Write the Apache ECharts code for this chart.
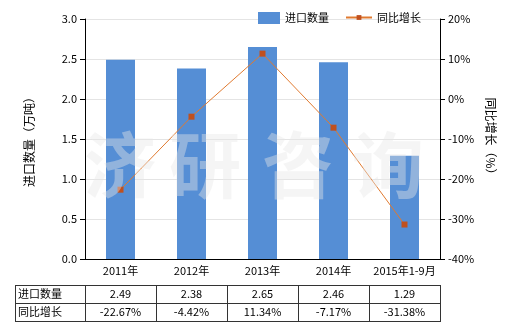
<!DOCTYPE html>
<html><head><meta charset="utf-8">
<script src="https://cdn.jsdelivr.net/npm/echarts@6/dist/echarts.min.js"></script>
<style>html,body{margin:0;padding:0;background:#fff}#c{width:520px;height:330px}</style>
</head><body><div id="c"></div>
<script>
var categories = ['2011年','2012年','2013年','2014年','2015年1-9月'];
var importQty = [2.49, 2.38, 2.65, 2.46, 1.29];
var yoyGrowth = [-22.67, -4.42, 11.34, -7.17, -31.38];
var qtyLabels = ['2.49','2.38','2.65','2.46','1.29'];
var growthLabels = ['-22.67%','-4.42%','11.34%','-7.17%','-31.38%'];
var rowNames = ['进口数量','同比增长'];
var watermarkChars = ['济','研','咨','询'];

var FONT = '"Noto Sans CJK SC", sans-serif';
var L = 85, R = 440, T = 19, B = 259;
var chart = echarts.init(document.getElementById('c'));

var tbl = [];
var tx0 = 15, ty0 = 285, rowH = 18;
var colW = (R - L) / categories.length;
var lineStyle = {stroke:'#333', lineWidth:1};
var rows = [qtyLabels, growthLabels];
for (var r = 0; r <= 2; r++) {
  tbl.push({type:'line', shape:{x1:tx0, y1:ty0 + r*rowH + 0.5, x2:R+1, y2:ty0 + r*rowH + 0.5}, style:lineStyle, silent:true});
}
tbl.push({type:'line', shape:{x1:tx0+0.5, y1:ty0, x2:tx0+0.5, y2:ty0+2*rowH}, style:lineStyle});
for (var c = 0; c <= categories.length; c++) {
  var x = Math.round(L + c*colW) + 0.5;
  tbl.push({type:'line', shape:{x1:x, y1:ty0, x2:x, y2:ty0+2*rowH}, style:lineStyle});
}
for (var r2 = 0; r2 < 2; r2++) {
  tbl.push({type:'text', x: tx0 + 3, y: ty0 + r2*rowH + rowH/2, style:{text: rowNames[r2], font:'11px '+FONT, fill:'#000', verticalAlign:'middle', align:'left'}});
  for (var c2 = 0; c2 < categories.length; c2++) {
    tbl.push({type:'text', x: L + (c2+0.5)*colW, y: ty0 + r2*rowH + rowH/2, style:{text: rows[r2][c2], font:'11px '+FONT, fill:'#000', verticalAlign:'middle', align:'center'}});
  }
}
var wmX = [120, 205, 298, 388];
for (var w = 0; w < watermarkChars.length; w++) {
  tbl.push({type:'text', x: wmX[w], y: 165, z: 100, silent:true,
    style:{text:watermarkChars[w], font:'bold 72px '+FONT, fill:'rgba(232,232,232,0.42)', align:'center', verticalAlign:'middle'}});
}

chart.setOption({
  animation:false,
  textStyle:{fontFamily:FONT},
  grid:{left:L, right:520-R, top:T, bottom:330-B, containLabel:false},
  legend:[{
    top:7, left:253, itemWidth:22, itemHeight:12,
    textStyle:{fontSize:11, color:'#000', fontFamily:FONT},
    data:[{name:'进口数量', icon:'rect'}]
  },{
    top:7, left:340, itemWidth:26, itemHeight:6,
    lineStyle:{width:2},
    textStyle:{fontSize:11, color:'#000', fontFamily:FONT},
    data:[{name:'同比增长'}]
  }],
  xAxis:{
    type:'category', data:categories,
    axisLine:{lineStyle:{color:'#000'}},
    axisTick:{show:false},
    axisLabel:{color:'#000', fontSize:11, margin:6, interval:0}
  },
  yAxis:[{
    type:'value', min:0, max:3, interval:0.5,
    name:'进口数量（万吨）', nameLocation:'middle', nameGap:50, nameRotate:90,
    nameTextStyle:{fontSize:12, color:'#000'},
    axisLine:{show:true, lineStyle:{color:'#000'}},
    axisTick:{show:true, length:5, lineStyle:{color:'#000'}},
    axisLabel:{color:'#000', fontSize:11, formatter:function(v){return v.toFixed(1);}},
    splitLine:{lineStyle:{color:'#e4e4e4'}}
  },{
    type:'value', min:-40, max:20, interval:10,
    name:'同比增长（%）', nameLocation:'middle', nameGap:45, nameRotate:-90,
    nameTextStyle:{fontSize:12, color:'#000'},
    axisLine:{show:true, lineStyle:{color:'#000'}},
    axisTick:{show:true, length:5, lineStyle:{color:'#000'}},
    axisLabel:{color:'#000', fontSize:11, formatter:'{value}%'},
    splitLine:{show:false}
  }],
  series:[{
    name:'进口数量', type:'bar', data:importQty, barWidth:29,
    itemStyle:{color:'#558ED5'}
  },{
    name:'同比增长', type:'line', yAxisIndex:1, data:yoyGrowth,
    symbol:'rect', symbolSize:6,
    lineStyle:{color:'#E07A30', width:1},
    itemStyle:{color:'#C0501E'}
  }],
  graphic:tbl
});
</script></body></html>
